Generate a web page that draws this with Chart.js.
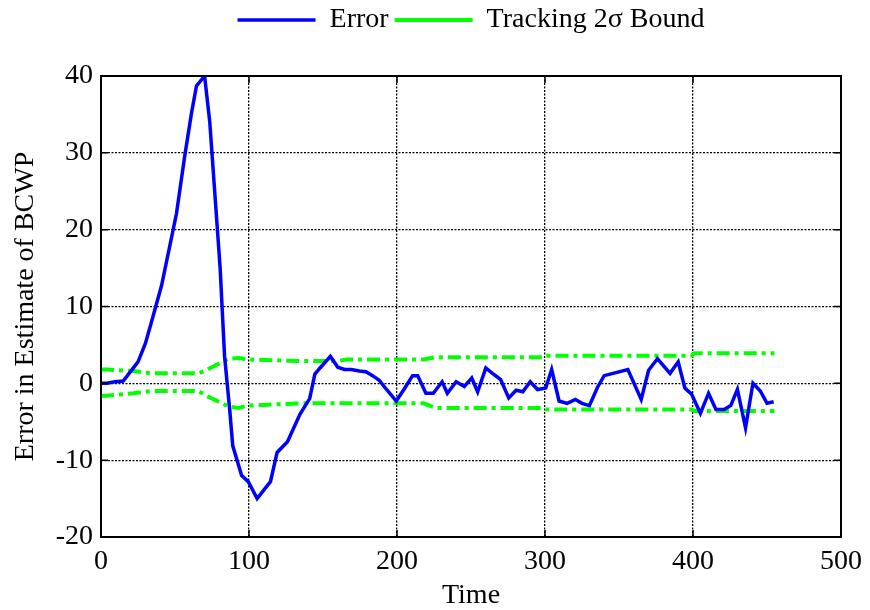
<!DOCTYPE html>
<html>
<head>
<meta charset="utf-8">
<title>BCWP estimate error</title>
<script src="https://cdn.jsdelivr.net/npm/chart.js@4.4.1/dist/chart.umd.min.js"></script>
<style>
  body { margin: 0; background: #fff; }
</style>
</head>
<body>
<canvas id="myChart" width="870" height="610"></canvas>
<script>
// Error in the BCWP estimate
let errTime = [0, 4, 9.5, 15, 25, 30, 35, 41, 51, 56.5, 61, 64.5, 70, 73.5, 77, 80.5, 83.5, 87, 89, 95,
  99.5, 105.5, 114.5, 119, 126, 134.5, 141, 144.5, 148, 155, 160, 164.5, 169, 174.5, 179, 183.5,
  188, 192.5, 199.5, 205, 210.5, 214, 219.5, 224.5, 230.5, 234, 240, 245.5, 250.5, 254.5, 260,
  264.5, 270, 275.5, 280.5, 285, 290, 295, 300.5, 304.5, 309.5, 315, 320.5, 325, 330, 335.5, 340,
  356, 365, 370, 376, 384.5, 390, 394.5, 399, 405, 410.5, 415.5, 421, 425.5, 430, 435.5, 440.5,
  445.5, 450, 454.5];
let errValue = [0, 0, 0.2, 0.3, 2.8, 5.2, 8.6, 12.8, 22.1, 29.5, 35, 38.7, 40, 34, 24.5, 15, 3.5, -3.5, -8.1, -12,
  -12.8, -15, -12.8, -9, -7.6, -4, -2, 1.2, 2, 3.5, 2.1, 1.8, 1.8, 1.6, 1.5, 1.0,
  0.4, -0.7, -2.3, -0.7, 1.0, 1.0, -1.3, -1.3, 0.2, -1.3, 0.2, -0.4, 0.7, -1.1, 2.0,
  1.3, 0.5, -1.9, -0.9, -1.1, 0.2, -0.8, -0.6, 1.8, -2.3, -2.6, -2.1, -2.6, -2.9, -0.5, 1.0,
  1.8, -2.1, 1.7, 3.2, 1.3, 2.8, -0.6, -1.4, -3.9, -1.3, -3.4, -3.4, -2.9, -0.8, -5.8, 0,
  -1, -2.6, -2.4];

// Tracking 2-sigma bound
let boundTime = [0, 4, 22, 34, 66, 71, 86, 93, 99, 135, 160, 166, 218, 226, 299, 301, 399, 401, 455];
let boundUpper = [1.8, 1.8, 1.6, 1.3, 1.3, 1.7, 3.2, 3.3, 3.1, 2.9, 2.9, 3.1, 3.1, 3.4, 3.4, 3.6, 3.6, 3.9, 3.9];
let boundLower = [-1.6, -1.6, -1.3, -1.0, -1.0, -1.6, -3.0, -3.2, -2.9, -2.6, -2.6, -2.6, -2.6, -3.2, -3.2, -3.4, -3.4, -3.6, -3.6];

let xTicks = [0, 100, 200, 300, 400, 500];
let yTicks = [-20, -10, 0, 10, 20, 30, 40];

function toPoints(xs, ys) {
  return xs.map((x, i) => ({ x: x, y: ys[i] }));
}

Chart.defaults.font.family = "'Liberation Serif', 'Times New Roman', serif";
Chart.defaults.font.size = 28;
Chart.defaults.color = "#000";

let boundDash = [13, 5, 4, 5];
let gridDash = [2, 1.5];

// box round the plot and inward tick marks on all four sides
const frame = {
  id: "frame",
  afterDatasetsDraw(chart) {
    const { ctx, chartArea: a, scales: { x, y } } = chart;
    const len = 7;
    ctx.save();
    ctx.setLineDash([]);
    ctx.strokeStyle = "#000";
    ctx.lineWidth = 1.5;
    ctx.beginPath();
    xTicks.forEach(v => {
      const px = x.getPixelForValue(v);
      ctx.moveTo(px, a.bottom); ctx.lineTo(px, a.bottom - len);
      ctx.moveTo(px, a.top); ctx.lineTo(px, a.top + len);
    });
    yTicks.forEach(v => {
      const py = y.getPixelForValue(v);
      ctx.moveTo(a.left, py); ctx.lineTo(a.left + len, py);
      ctx.moveTo(a.right, py); ctx.lineTo(a.right - len, py);
    });
    ctx.stroke();
    ctx.lineWidth = 2;
    ctx.strokeRect(a.left, a.top, a.right - a.left, a.bottom - a.top);
    ctx.restore();
  }
};

new Chart("myChart", {
  type: "line",
  data: {
    datasets: [{
      label: "Error",
      data: toPoints(errTime, errValue),
      borderColor: "#0000ff",
      backgroundColor: "#0000ff",
      borderWidth: 3.5,
      pointRadius: 0,
      tension: 0
    }, {
      label: "Tracking 2\u03c3 Bound",
      data: toPoints(boundTime, boundUpper),
      borderColor: "#00ff00",
      backgroundColor: "#00ff00",
      borderWidth: 4,
      borderDash: boundDash,
      pointRadius: 0,
      tension: 0
    }, {
      label: "lower",
      data: toPoints(boundTime, boundLower),
      borderColor: "#00ff00",
      backgroundColor: "#00ff00",
      borderWidth: 4,
      borderDash: boundDash,
      pointRadius: 0,
      tension: 0
    }]
  },
  options: {
    responsive: false,
    animation: false,
    layout: { padding: { left: 0, right: 27, top: 0, bottom: 0 } },
    plugins: {
      tooltip: { enabled: false },
      legend: {
        position: "top",
        fullSize: false,
        labels: {
          usePointStyle: true,
          pointStyle: "line",
          pointStyleWidth: 78,
          padding: 6,
          color: "#000",
          font: { size: 28 },
          filter: item => item.datasetIndex < 2
        }
      }
    },
    scales: {
      x: {
        type: "linear",
        position: "bottom",
        min: xTicks[0],
        max: xTicks[xTicks.length - 1],
        afterFit: s => { s.height = 73; },
        ticks: { stepSize: 100, padding: 8, maxRotation: 0, color: "#000" },
        grid: { color: "#000", lineWidth: 1.3, drawTicks: false },
        border: { display: false, dash: gridDash },
        title: { display: true, text: "Time", color: "#000", font: { size: 28, lineHeight: 1 }, padding: 0 }
      },
      xTop: {
        type: "linear",
        position: "top",
        min: xTicks[0],
        max: xTicks[xTicks.length - 1],
        afterFit: s => { s.height = 32; },
        ticks: { display: false },
        grid: { display: false },
        border: { display: false }
      },
      y: {
        min: yTicks[0],
        max: yTicks[yTicks.length - 1],
        afterFit: s => { s.width = 101; },
        ticks: { stepSize: 10, padding: 8, color: "#000" },
        grid: { color: "#000", lineWidth: 1.3, drawTicks: false },
        border: { display: false, dash: gridDash },
        title: { display: true, text: "Error in Estimate of BCWP", color: "#000", font: { size: 28, lineHeight: 1 }, padding: { top: 12, bottom: 0 } }
      }
    }
  },
  plugins: [frame]
});
</script>
</body>
</html>
